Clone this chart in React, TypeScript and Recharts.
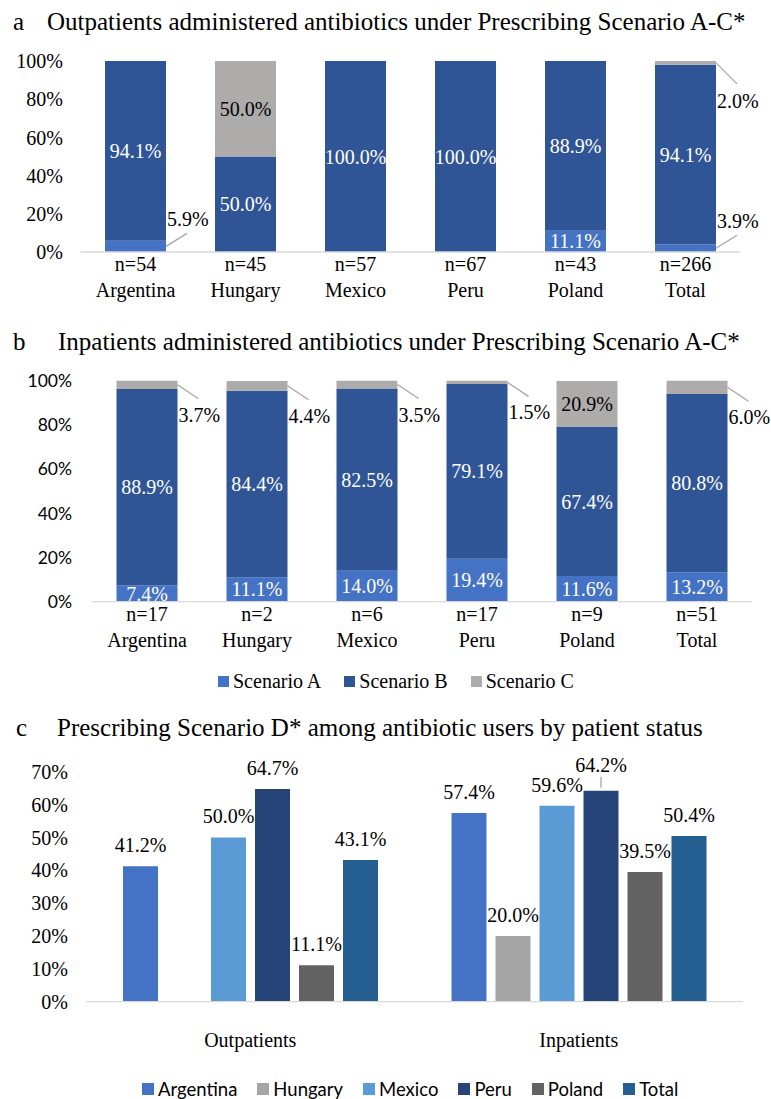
import React from 'react';
import { BarChart, Bar, XAxis, YAxis, LabelList, Legend } from 'recharts';

// ---------- data ----------
const countries = ['Argentina', 'Hungary', 'Mexico', 'Peru', 'Poland', 'Total'];

const outpatientN = ['n=54', 'n=45', 'n=57', 'n=67', 'n=43', 'n=266'];
const outScenarioA = [5.9, 0, 0, 0, 11.1, 3.9];
const outScenarioB = [94.1, 50.0, 100.0, 100.0, 88.9, 94.1];
const outScenarioC = [0, 50.0, 0, 0, 0, 2.0];

const inpatientN = ['n=17', 'n=2', 'n=6', 'n=17', 'n=9', 'n=51'];
const inScenarioA = [7.4, 11.1, 14.0, 19.4, 11.6, 13.2];
const inScenarioB = [88.9, 84.4, 82.5, 79.1, 67.4, 80.8];
const inScenarioC = [3.7, 4.4, 3.5, 1.5, 20.9, 6.0];

const patientStatus = ['Outpatients', 'Inpatients'];
const scenarioDArgentina = [41.2, 57.4];
const scenarioDHungary: (number | null)[] = [null, 20.0];
const scenarioDMexico = [50.0, 59.6];
const scenarioDPeru = [64.7, 64.2];
const scenarioDPoland = [11.1, 39.5];
const scenarioDTotal = [43.1, 50.4];

const stackTicks = [0, 20, 40, 60, 80, 100];
const scenarioDTicks = [0, 10, 20, 30, 40, 50, 60, 70];

const scenarioNames = ['Scenario A', 'Scenario B', 'Scenario C'];
const liftedLabels = [{ series: 'Peru', category: 'Inpatients' }];

// ---------- styles ----------
const SERIF = '"Liberation Serif", "Times New Roman", Times, serif';
const SANS = 'Lato, Carlito, Calibri, sans-serif';
const COL_A = '#4472C4';
const COL_B = '#2F5597';
const COL_C = '#AEABAB';
const countryColors = ['#4472C4', '#A5A5A5', '#5B9BD5', '#264478', '#636363', '#255E91'];
const AXIS_COL = '#D9D9D9';
const LEADER_COL = '#A6A6A6';
const SMALL_SHARE = 7;

// ---------- derived tables ----------
const outData = countries.map((c, i) => ({
  country: c,
  A: outScenarioA[i],
  B: outScenarioB[i],
  C: outScenarioC[i],
}));
const inData = countries.map((c, i) => ({
  country: c,
  A: inScenarioA[i],
  B: inScenarioB[i],
  C: inScenarioC[i],
}));
const dSeries = [
  scenarioDArgentina,
  scenarioDHungary,
  scenarioDMexico,
  scenarioDPeru,
  scenarioDPoland,
  scenarioDTotal,
];
const dData = patientStatus.map((s, i) => {
  const row: any = { status: s };
  countries.forEach((c, k) => {
    row[c] = dSeries[k][i];
  });
  return row;
});

// ---------- helpers ----------
const getBox = (p: any) => {
  const vb = p.viewBox && p.viewBox.width != null ? p.viewBox : p;
  const x = Number(vb.x);
  const w = Number(vb.width);
  let y = Number(vb.y);
  let h = Number(vb.height);
  if (h < 0) {
    y = y + h;
    h = -h;
  }
  return { x, y, w, h };
};

type StackOpts = { fill: string; dir: 'up' | 'down'; lineDy: number; textDy: number };
const stackLabel = (o: StackOpts) => (p: any) => {
  const v = Number(p.value);
  if (!v) return null;
  const { x, y, w, h } = getBox(p);
  const txt = v.toFixed(1) + '%';
  if (v < SMALL_SHARE) {
    const xr = x + w;
    const ym = y + h / 2;
    const s = o.dir === 'up' ? -1 : 1;
    return (
      <g>
        <line x1={xr} y1={ym} x2={xr + 21} y2={ym + s * o.lineDy} stroke={LEADER_COL} strokeWidth={1.3} />
        <text x={xr + 1} y={ym + s * o.textDy} fontFamily={SERIF} fontSize={20} fill="#000" dominantBaseline="central">
          {txt}
        </text>
      </g>
    );
  }
  return (
    <text
      x={x + w / 2}
      y={y + h / 2}
      textAnchor="middle"
      dominantBaseline="central"
      fontFamily={SERIF}
      fontSize={20}
      fill={o.fill}
    >
      {txt}
    </text>
  );
};

const topLabel = (series: string) => (p: any) => {
  if (p.value == null || p.value === '') return null;
  const v = Number(p.value);
  const { x, y, w } = getBox(p);
  const cx = x + w / 2;
  const cat = patientStatus[p.index];
  const lifted = liftedLabels.some((l) => l.series === series && l.category === cat);
  const txt = v.toFixed(1) + '%';
  if (lifted) {
    return (
      <g>
        <line x1={cx} y1={y - 3} x2={cx} y2={y - 14} stroke={LEADER_COL} strokeWidth={1.3} />
        <text x={cx} y={y - 26} textAnchor="middle" dominantBaseline="central" fontFamily={SERIF} fontSize={20} fill="#000">
          {txt}
        </text>
      </g>
    );
  }
  return (
    <text x={cx} y={y - 21} textAnchor="middle" dominantBaseline="central" fontFamily={SERIF} fontSize={20} fill="#000">
      {txt}
    </text>
  );
};

const twoLineTick = (nLabels: string[]) => (p: any) => {
  const { x, y, payload, index } = p;
  return (
    <g>
      <text x={x} y={y + 12} textAnchor="middle" dominantBaseline="central" fontFamily={SERIF} fontSize={20} fill="#000">
        {nLabels[index]}
      </text>
      <text x={x} y={y + 38} textAnchor="middle" dominantBaseline="central" fontFamily={SERIF} fontSize={20} fill="#000">
        {payload.value}
      </text>
    </g>
  );
};

const statusTick = (p: any) => {
  const { x, y, payload } = p;
  return (
    <text x={x} y={y + 38} textAnchor="middle" dominantBaseline="central" fontFamily={SERIF} fontSize={20} fill="#000">
      {payload.value}
    </text>
  );
};

type LegOpts = { font: string; size: number; box: number; gap: number; spacing: number };
const legendContent = (o: LegOpts) => (props: any) => {
  const payload = props.payload || [];
  return (
    <div style={{ display: 'flex', alignItems: 'center', height: 24, whiteSpace: 'nowrap' }}>
      {payload.map((item: any, i: number) => (
        <div key={i} style={{ display: 'flex', alignItems: 'center', marginRight: o.spacing }}>
          <span
            style={{ display: 'inline-block', width: o.box, height: o.box, background: item.color, marginRight: o.gap }}
          />
          <span style={{ fontFamily: o.font, fontSize: o.size, lineHeight: '24px', color: '#000' }}>{item.value}</span>
        </div>
      ))}
    </div>
  );
};

const pct = (v: number) => `${v}%`;

export default function App() {
  return (
    <div style={{ position: 'absolute', left: 0, top: 0, width: 771, height: 1099, background: '#fff', overflow: 'hidden' }}>
      <svg width={771} height={1099} style={{ position: 'absolute', left: 0, top: 0 }}>
        <g fontFamily={SERIF} fontSize={25} fill="#000">
          <text x={13} y={30}>a</text>
          <text x={47} y={30}>Outpatients administered antibiotics under Prescribing Scenario A-C*</text>
          <text x={13} y={350}>b</text>
          <text x={58} y={350}>Inpatients administered antibiotics under Prescribing Scenario A-C*</text>
          <text x={16} y={736}>c</text>
          <text x={57} y={736}>Prescribing Scenario D* among antibiotic users by patient status</text>
        </g>
      </svg>

      {/* Panel a */}
      <div style={{ position: 'absolute', left: 0, top: 0 }}>
        <BarChart
          width={771}
          height={310}
          data={outData}
          margin={{ top: 61, right: 30.5, bottom: 0, left: 0 }}
          barCategoryGap={24.5}
        >
          <XAxis
            dataKey="country"
            height={58}
            axisLine={{ stroke: AXIS_COL, strokeWidth: 1.3 }}
            tickLine={false}
            tickSize={0}
            tickMargin={0}
            interval={0}
            tick={twoLineTick(outpatientN)}
          />
          <YAxis
            type="number"
            domain={[0, 100]}
            ticks={stackTicks}
            width={80.5}
            axisLine={false}
            tickLine={false}
            tickSize={0}
            tickMargin={17.5}
            tickFormatter={pct}
            tick={{ fontFamily: SERIF, fontSize: 20, fill: '#000' }}
          />
          <Bar dataKey="A" name={scenarioNames[0]} stackId="s" fill={COL_A} isAnimationActive={false}>
            <LabelList dataKey="A" content={stackLabel({ fill: '#fff', dir: 'up', lineDy: 13, textDy: 27 })} />
          </Bar>
          <Bar dataKey="B" name={scenarioNames[1]} stackId="s" fill={COL_B} isAnimationActive={false}>
            <LabelList dataKey="B" content={stackLabel({ fill: '#fff', dir: 'down', lineDy: 14, textDy: 30 })} />
          </Bar>
          <Bar dataKey="C" name={scenarioNames[2]} stackId="s" fill={COL_C} isAnimationActive={false}>
            <LabelList dataKey="C" content={stackLabel({ fill: '#000', dir: 'down', lineDy: 21, textDy: 38 })} />
          </Bar>
        </BarChart>
      </div>

      {/* Panel b */}
      <div style={{ position: 'absolute', left: 0, top: 300 }}>
        <BarChart
          width={771}
          height={400}
          data={inData}
          margin={{ top: 80.7, right: 19, bottom: 0, left: 0 }}
          barCategoryGap={24.5}
        >
          <XAxis
            dataKey="country"
            height={98.3}
            axisLine={{ stroke: AXIS_COL, strokeWidth: 1.3 }}
            tickLine={false}
            tickSize={0}
            tickMargin={0}
            interval={0}
            tick={twoLineTick(inpatientN)}
          />
          <YAxis
            type="number"
            domain={[0, 100]}
            ticks={stackTicks}
            width={92}
            axisLine={false}
            tickLine={false}
            tickSize={0}
            tickMargin={20}
            tickFormatter={pct}
            tick={{ fontFamily: SANS, fontSize: 17.5, fill: '#000' }}
          />
          <Legend
            layout="horizontal"
            verticalAlign="middle"
            align="center"
            wrapperStyle={{ left: 218, top: 369, width: 500, height: 24 }}
            content={legendContent({ font: SERIF, size: 20, box: 11, gap: 4, spacing: 23 })}
          />
          <Bar dataKey="A" name={scenarioNames[0]} stackId="s" fill={COL_A} isAnimationActive={false}>
            <LabelList dataKey="A" content={stackLabel({ fill: '#fff', dir: 'up', lineDy: 13, textDy: 27 })} />
          </Bar>
          <Bar dataKey="B" name={scenarioNames[1]} stackId="s" fill={COL_B} isAnimationActive={false}>
            <LabelList dataKey="B" content={stackLabel({ fill: '#fff', dir: 'down', lineDy: 14, textDy: 30 })} />
          </Bar>
          <Bar dataKey="C" name={scenarioNames[2]} stackId="s" fill={COL_C} isAnimationActive={false}>
            <LabelList dataKey="C" content={stackLabel({ fill: '#000', dir: 'down', lineDy: 14, textDy: 30 })} />
          </Bar>
        </BarChart>
      </div>

      {/* Panel c */}
      <div style={{ position: 'absolute', left: 0, top: 700 }}>
        <BarChart
          width={771}
          height={399}
          data={dData}
          margin={{ top: 71.7, right: 28, bottom: 0, left: 0 }}
          barCategoryGap={37}
          barGap={9}
        >
          <XAxis
            dataKey="status"
            height={97.3}
            axisLine={{ stroke: AXIS_COL, strokeWidth: 1.3 }}
            tickLine={false}
            tickSize={0}
            tickMargin={0}
            interval={0}
            tick={statusTick}
          />
          <YAxis
            type="number"
            domain={[0, 70]}
            ticks={scenarioDTicks}
            width={86}
            axisLine={false}
            tickLine={false}
            tickSize={0}
            tickMargin={18}
            tickFormatter={pct}
            tick={{ fontFamily: SERIF, fontSize: 20, fill: '#000' }}
          />
          <Legend
            layout="horizontal"
            verticalAlign="middle"
            align="center"
            wrapperStyle={{ left: 142, top: 377, width: 620, height: 24 }}
            content={legendContent({ font: SANS, size: 18.5, box: 12, gap: 4, spacing: 20 })}
          />
          {countries.map((c, k) => (
            <Bar key={c} dataKey={c} name={c} fill={countryColors[k]} isAnimationActive={false}>
              <LabelList dataKey={c} content={topLabel(c)} />
            </Bar>
          ))}
        </BarChart>
      </div>
    </div>
  );
}
